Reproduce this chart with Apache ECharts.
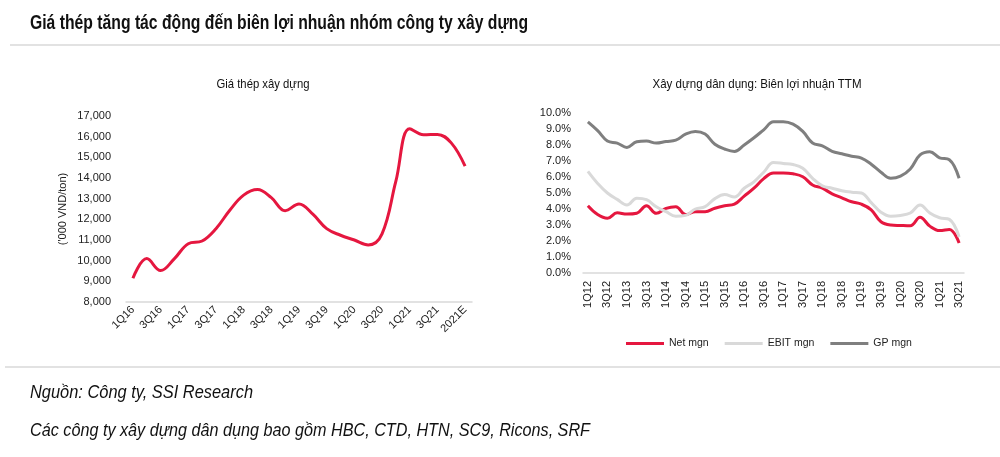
<!DOCTYPE html>
<html>
<head>
<meta charset="utf-8">
<script src="https://cdn.jsdelivr.net/npm/echarts@6/dist/echarts.min.js"></script>
<style>
html,body{margin:0;padding:0;background:#fff;}
#c{width:1000px;height:457px;}
</style>
</head>
<body>
<div id="c"></div>
<script>
// ---- Left chart: steel price ('000 VND/ton)
var steelCategories = ['1Q16','2Q16','3Q16','4Q16','1Q17','2Q17','3Q17','4Q17','1Q18','2Q18','3Q18','4Q18','1Q19','2Q19','3Q19','4Q19','1Q20','2Q20','3Q20','4Q20','1Q21','2Q21','3Q21','4Q21','2021E'];
var steelPrice = [9150,10100,9520,10100,10820,10950,11550,12440,13170,13440,13050,12420,12740,12250,11550,11230,11000,10760,11300,13850,16380,16090,16110,15700,14570];
var steelTicks = [8000,9000,10000,11000,12000,13000,14000,15000,16000,17000];

// ---- Right chart: construction margins TTM (%)
var marginCategories = ['1Q12','2Q12','3Q12','4Q12','1Q13','2Q13','3Q13','4Q13','1Q14','2Q14','3Q14','4Q14','1Q15','2Q15','3Q15','4Q15','1Q16','2Q16','3Q16','4Q16','1Q17','2Q17','3Q17','4Q17','1Q18','2Q18','3Q18','4Q18','1Q19','2Q19','3Q19','4Q19','1Q20','2Q20','3Q20','4Q20','1Q21','2Q21','3Q21'];
var netMgn = [4.2,3.65,3.42,3.76,3.68,3.73,4.2,3.73,4.04,4.14,3.65,3.83,3.83,4.05,4.2,4.3,4.8,5.3,5.9,6.25,6.25,6.2,6.02,5.5,5.3,4.95,4.7,4.45,4.3,3.95,3.2,3.0,2.97,2.95,3.48,2.93,2.65,2.72,1.88];
var ebitMgn = [6.35,5.6,5.0,4.6,4.25,4.67,4.58,4.14,3.83,3.55,3.6,4.0,4.15,4.65,4.9,4.75,5.3,5.7,6.3,6.9,6.85,6.78,6.55,5.92,5.45,5.3,5.14,5.05,5.0,4.4,3.8,3.55,3.6,3.75,4.25,3.75,3.45,3.35,2.26];
var gpMgn = [9.45,8.9,8.25,8.12,7.85,8.2,8.25,8.12,8.22,8.3,8.68,8.85,8.68,8.05,7.75,7.6,8.0,8.45,8.95,9.45,9.45,9.3,8.85,8.12,7.95,7.6,7.45,7.3,7.18,6.8,6.3,5.92,6.05,6.5,7.38,7.58,7.2,7.08,5.92];
var marginTicks = [0,1,2,3,4,5,6,7,8,9,10];

var mainTitle = 'Giá thép tăng tác động đến biên lợi nhuận nhóm công ty xây dựng';
var leftTitle = 'Giá thép xây dựng';
var rightTitle = 'Xây dựng dân dụng: Biên lợi nhuận TTM';
var source1 = 'Nguồn: Công ty, SSI Research';
var source2 = 'Các công ty xây dựng dân dụng bao gồm HBC, CTD, HTN, SC9, Ricons, SRF';

var RED = '#E5173F', LGRAY = '#D9D9D9', DGRAY = '#7F7F7F';
var FONT = '"Liberation Sans", Arial, sans-serif';

// condensed text emulation: horizontal scale to fit the target width
var mctx = document.createElement('canvas').getContext('2d');
function fitScale(text, font, target){
  mctx.font = font;
  return target / mctx.measureText(text).width;
}
function narrowText(text, x, y, size, weight, styleI, target, align){
  var font = (styleI||'normal') + ' ' + (weight||'normal') + ' ' + size + 'px ' + FONT;
  var s = fitScale(text, font, target);
  return {type:'text', x:x, y:y, scaleX:s, scaleY:1, silent:true,
    style:{text:text, fontFamily:FONT, fontSize:size, fontWeight:weight||'normal', fontStyle:styleI||'normal',
      fill:'#111', align:align||'left', verticalAlign:'middle'}};
}

var chart = echarts.init(document.getElementById('c'), null, {renderer:'canvas'});
var axisLabelBase = {color:'#222', fontFamily:FONT, fontSize:11};

chart.setOption({
  animation:false,
  backgroundColor:'#fff',
  graphic:[
    narrowText(mainTitle, 30, 23, 20, 'bold', 'normal', 498, 'left'),
    narrowText(leftTitle, 263, 84, 13, 'normal', 'normal', 93, 'center'),
    narrowText(rightTitle, 757, 84, 13, 'normal', 'normal', 209, 'center'),
    {type:'line', shape:{x1:10,y1:45,x2:1000,y2:45}, style:{stroke:'#D9D9D9', lineWidth:1.5}},
    {type:'line', shape:{x1:5,y1:367,x2:1000,y2:367}, style:{stroke:'#D9D9D9', lineWidth:1.5}},
    narrowText(source1, 30, 393, 18, 'normal', 'italic', 223, 'left'),
    narrowText(source2, 30, 431, 18, 'normal', 'italic', 560, 'left')
  ],
  legend:{
    data:['Net mgn','EBIT mgn','GP mgn'],
    left:621, top:333, itemWidth:38, itemHeight:3, itemGap:16, icon:'rect',
    textStyle:{fontFamily:FONT, fontSize:10.5, color:'#222'}
  },
  grid:[
    {left:126, top:116, width:346, height:186},
    {left:583, top:113, width:381, height:160}
  ],
  xAxis:[
    {type:'category', gridIndex:0, data:steelCategories, boundaryGap:true,
     axisLine:{lineStyle:{color:LGRAY, width:1.5}}, axisTick:{show:false},
     axisLabel:Object.assign({}, axisLabelBase, {rotate:45, interval:1, margin:6})},
    {type:'category', gridIndex:1, data:marginCategories, boundaryGap:true,
     axisLine:{lineStyle:{color:LGRAY, width:1.5}}, axisTick:{show:false},
     axisLabel:Object.assign({}, axisLabelBase, {rotate:90, interval:1, margin:8})}
  ],
  yAxis:[
    {type:'value', gridIndex:0, min:steelTicks[0], max:steelTicks[steelTicks.length-1], interval:1000,
     name:"('000 VND/ton)", nameLocation:'middle', nameGap:58, nameRotate:90,
     nameTextStyle:{fontFamily:FONT, fontSize:11, color:'#222'},
     splitLine:{show:false}, axisLine:{show:false}, axisTick:{show:false},
     axisLabel:Object.assign({}, axisLabelBase, {margin:15, formatter:function(v){return v.toLocaleString('en-US');}})},
    {type:'value', gridIndex:1, min:marginTicks[0], max:marginTicks[marginTicks.length-1], interval:1,
     splitLine:{show:false}, axisLine:{show:false}, axisTick:{show:false},
     axisLabel:Object.assign({}, axisLabelBase, {margin:12, formatter:function(v){return v.toFixed(1)+'%';}})}
  ],
  series:[
    {name:'Giá thép', type:'line', xAxisIndex:0, yAxisIndex:0, data:steelPrice, smooth:0.4,
     showSymbol:false, lineStyle:{color:RED, width:3}, itemStyle:{color:RED}},
    {name:'Net mgn', type:'line', xAxisIndex:1, yAxisIndex:1, data:netMgn, smooth:0.4,
     showSymbol:false, lineStyle:{color:RED, width:3}, itemStyle:{color:RED}},
    {name:'EBIT mgn', type:'line', xAxisIndex:1, yAxisIndex:1, data:ebitMgn, smooth:0.4,
     showSymbol:false, lineStyle:{color:LGRAY, width:3}, itemStyle:{color:LGRAY}},
    {name:'GP mgn', type:'line', xAxisIndex:1, yAxisIndex:1, data:gpMgn, smooth:0.4,
     showSymbol:false, lineStyle:{color:DGRAY, width:3}, itemStyle:{color:DGRAY}}
  ]
});
</script>
</body>
</html>
